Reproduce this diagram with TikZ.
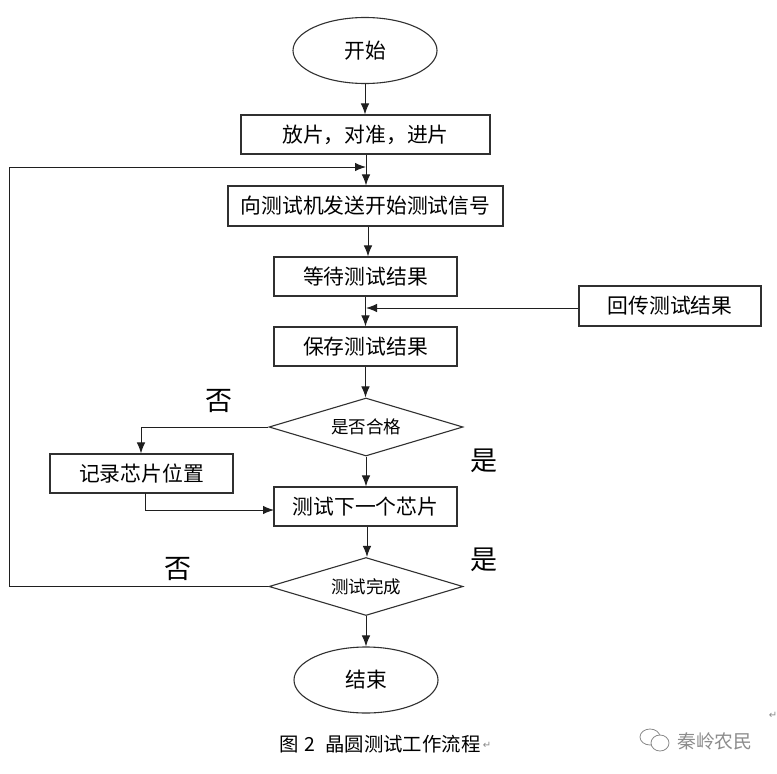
\documentclass[tikz,border=0pt]{standalone}
\usepackage{fontspec}
\setmainfont{Noto Sans CJK SC}
\newfontfamily\symfont{DejaVu Sans}
\usetikzlibrary{arrows.meta,shapes.geometric}
\definecolor{edgegrey}{HTML}{303030}
\definecolor{markgrey}{HTML}{8A8A8A}
\tikzset{
  x=1pt,y=-1pt,
  base/.style={draw=edgegrey,line width=1.1pt,inner sep=0pt,text=black,font=\fontsize{20.8}{24}\selectfont},
  stepbox/.style={base,rectangle,minimum height=39pt},
  oval/.style={base,ellipse,minimum width=144pt,minimum height=66pt},
  choice/.style={base,diamond,minimum width=194pt,minimum height=58pt,aspect=3.34,font=\fontsize{17.5}{20}\selectfont},
  conn/.style={line width=1pt,draw=black!88,-{Latex[length=11pt,width=8.5pt]}},
  verdict/.style={font=\fontsize{27}{30}\selectfont,text=black,inner sep=0pt},
  captiontext/.style={font=\fontsize{19.4}{22}\selectfont,text=black,inner sep=0pt},
  retmark/.style={font=\symfont\fontsize{10}{10}\selectfont,text=markgrey,inner sep=0pt},
  brand/.style={font=\fontsize{18.8}{22}\selectfont,text=black!45,inner sep=0pt}
}
\begin{document}
\begin{tikzpicture}
\useasboundingbox[fill=white] (0,0) rectangle (777,774);
\node[oval] (start) at (365,50.5) {开始};
\node[stepbox,minimum width=249pt] (load) at (365.5,134.5) {放片，对准，进片};
\node[stepbox,minimum width=275pt,minimum height=40pt] (send) at (365.5,206) {向测试机发送开始测试信号};
\node[stepbox,minimum width=183pt] (wait) at (365.5,276.5) {等待测试结果};
\node[stepbox,minimum width=182pt,minimum height=40pt] (back) at (670,306) {回传测试结果};
\node[stepbox,minimum width=183pt] (save) at (365.5,346.5) {保存测试结果};
\node[choice] (pass) at (366,427) {是否合格};
\node[stepbox,minimum width=183pt] (rec) at (141.5,473.5) {记录芯片位置};
\node[stepbox,minimum width=183pt] (next) at (365.5,506.5) {测试下一个芯片};
\node[choice] (done) at (366,586.5) {测试完成};
\node[oval] (end) at (366,680) {结束};

\coordinate (loopA) at (9,586.5);
\coordinate (loopB) at (9,167);
\coordinate (loopC) at (366,167);
\coordinate (backIn) at (366,308);
\coordinate (passTurn) at (141,427);
\coordinate (recOut) at (145,493);
\coordinate (recTurn) at (145,510);
\coordinate (nextIn) at (274,510);

\draw[conn] (start.south) -- (start.south |- load.north);
\draw[conn] ([xshift=0.5pt]load.south) -- ([xshift=0.5pt]send.north);
\draw[conn] (done.west) -- (loopA) -- (loopB) -- (loopC);
\draw[conn] ([xshift=2.5pt]send.south) -- ([xshift=2.5pt]wait.north);
\draw[conn] (wait.south) -- (save.north);
\draw[conn] ([yshift=-2pt]back.west) -- (backIn);
\draw[conn] (save.south) -- (save.south |- pass.north);
\draw[conn] (pass.west) -- (passTurn) -- (rec.north -| passTurn);
\draw[conn] (pass.south) -- (pass.south |- next.north);
\draw[conn] (recOut) -- (recTurn) -- (nextIn);
\draw[conn] ([xshift=1.5pt]next.south) -- ([xshift=1.5pt]next.south |- done.north);
\draw[conn] (done.south) -- (end.north);

\node[verdict] (no1) at (219,401) {否};
\node[verdict] (yes1) at (484,461) {是};
\node[verdict] (no2) at (178,569) {否};
\node[verdict] (yes2) at (484,560) {是};
\node[captiontext,anchor=west] (cap) at (279,744) {图\hspace{6pt}2\hspace{10pt}晶圆测试工作流程};
\node[retmark] (ret1) at (487,745) {↵};
\node[retmark] (ret2) at (773,715) {↵};
\node[brand,anchor=west] (wm) at (677,741) {秦岭农民};
\draw[markgrey,line width=0.8pt,fill=white] (650,737) ellipse (10 and 8);
\draw[markgrey,line width=0.8pt,fill=white] (660,743) ellipse (9 and 8);
\end{tikzpicture}
\end{document}
